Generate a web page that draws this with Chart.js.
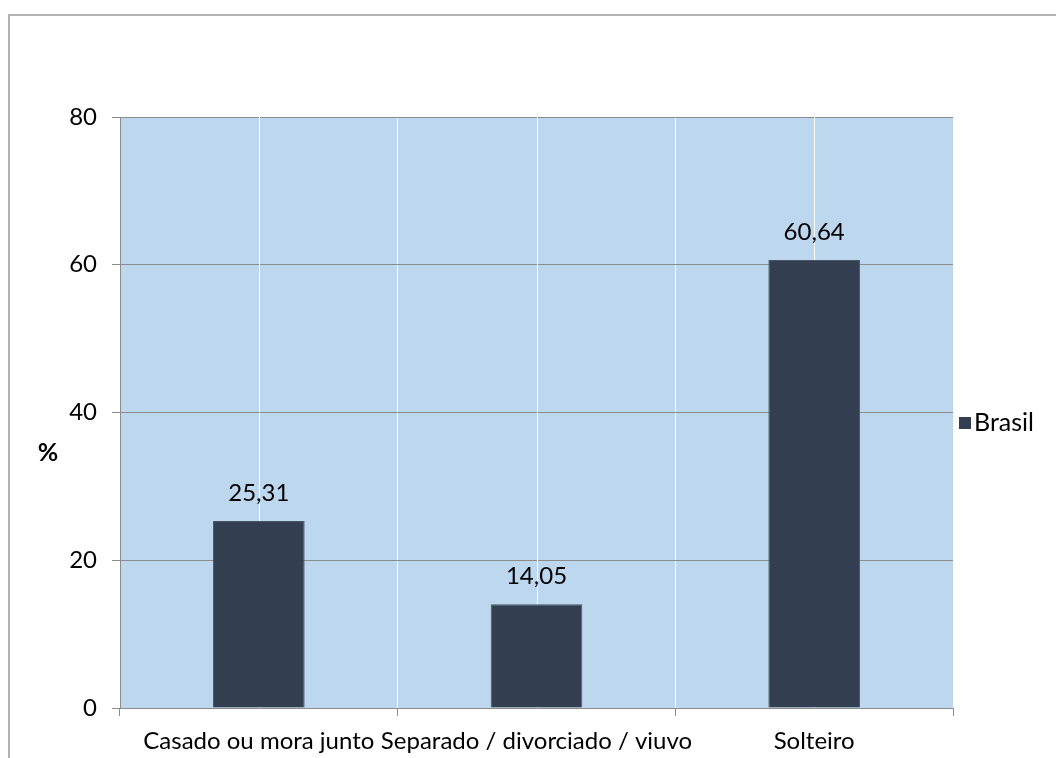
<!DOCTYPE html>
<html>
<head>
<meta charset="utf-8">
<script src="https://cdn.jsdelivr.net/npm/chart.js@4"></script>
<style>
  html, body { margin: 0; padding: 0; overflow: hidden; background: #fff; }
  #wrap { position: relative; width: 1056px; height: 758px; }
  #frame { position: absolute; left: 8px; top: 14px; width: 1200px; height: 900px; border-left: 2px solid #B3B3B3; border-top: 2px solid #B3B3B3; pointer-events: none; }
  canvas { position: absolute; left: 0; top: 0; }
</style>
</head>
<body>
<div id="wrap">
  <canvas id="c" width="1056" height="758"></canvas>
  <div id="frame"></div>
</div>
<script>
const categories = ["Casado ou mora junto", "Separado / divorciado / viuvo", "Solteiro"];
const seriesName = "Brasil";
const brasilValues = [25.31, 14.05, 60.64];
const yTicks = [0, 20, 40, 60, 80];
const yAxisTitle = "%";

const FONT = "Lato, 'Open Sans', sans-serif";

const plotBg = {
  id: 'plotBg',
  beforeDraw(chart) {
    const {ctx, chartArea: a} = chart;
    ctx.save();
    ctx.fillStyle = '#BDD7EE';
    ctx.fillRect(a.left, a.top, a.right - a.left, a.bottom - a.top);
    ctx.restore();
  },
  beforeDatasetsDraw(chart) {
    const {ctx, chartArea: a} = chart;
    const xs = chart.scales.x;
    ctx.save();
    ctx.strokeStyle = '#FFFFFF';
    ctx.lineWidth = 1;
    categories.forEach((c, i) => {
      const x = Math.round(xs.getPixelForValue(i)) + 0.5;
      ctx.beginPath();
      ctx.moveTo(x, a.top);
      ctx.lineTo(x, a.bottom);
      ctx.stroke();
    });
    ctx.restore();
  }
};

const extras = {
  id: 'extras',
  afterDatasetsDraw(chart) {
    const {ctx} = chart;
    const meta = chart.getDatasetMeta(0);
    ctx.save();
    ctx.fillStyle = '#000';
    ctx.font = "24px " + FONT;
    ctx.textAlign = 'center';
    ctx.textBaseline = 'middle';
    meta.data.forEach((bar, i) => {
      const v = chart.data.datasets[0].data[i];
      ctx.fillText(v.toFixed(2).replace('.', ','), bar.x, bar.y - 28);
    });
    // y axis title
    ctx.font = "bold 25px " + FONT;
    ctx.fillText(yAxisTitle, 48, 453);
    // legend
    const ds = chart.data.datasets[0];
    ctx.fillStyle = ds.backgroundColor;
    ctx.fillRect(959, 417, 12, 12);
    ctx.fillStyle = '#000';
    ctx.textAlign = 'left';
    ctx.font = "25px " + FONT;
    ctx.fillText(ds.label, 974, 423);
    ctx.restore();
  }
};

new Chart(document.getElementById('c'), {
  type: 'bar',
  data: {
    labels: categories,
    datasets: [{
      label: seriesName,
      data: brasilValues,
      backgroundColor: '#333F50',
      borderColor: '#4A5668',
      borderWidth: 1,
      barPercentage: 0.33,
      categoryPercentage: 1.0
    }]
  },
  options: {
    responsive: false,
    animation: false,
    devicePixelRatio: 1,
    layout: { padding: { left: 0, right: 103, top: 117, bottom: 0 } },
    plugins: {
      legend: { display: false },
      tooltip: { enabled: false },
      title: { display: false }
    },
    scales: {
      x: {
        offset: true,
        grid: { offset: true, color: '#FFFFFF', tickColor: '#8C8C8C', tickLength: 8, lineWidth: 1 },
        border: { display: true, color: '#8C8C8C' },
        ticks: { autoSkip: false, maxRotation: 0, minRotation: 0, padding: 11, color: '#000', font: { family: FONT, size: 24 } },
        afterFit(scale) { scale.height = 50; }
      },
      y: {
        min: 0, max: 80,
        afterBuildTicks(scale) { scale.ticks = yTicks.map(v => ({ value: v })); },
        grid: { color: '#8C8C8C', tickColor: '#8C8C8C', tickLength: 8, lineWidth: 1 },
        border: { display: true, color: '#8C8C8C' },
        ticks: { padding: 15, color: '#000', font: { family: FONT, size: 24 } },
        afterFit(scale) { scale.width = 120; }
      }
    }
  },
  plugins: [plotBg, extras]
});
</script>
</body>
</html>
